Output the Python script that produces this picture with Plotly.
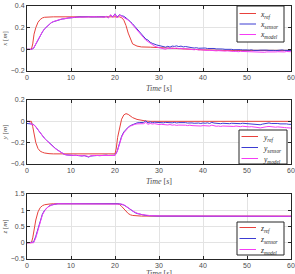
import numpy as np
import plotly.graph_objects as go

# ---------------- data ----------------
t_grid = np.arange(0, 60.01, 0.5)

# panel 1 : x
t_xref = [0, 1, 1.3, 1.6, 2, 2.5, 3, 3.5, 4, 5, 6, 21, 21.5, 22, 22.5, 23, 23.5, 24, 25, 26, 28, 30, 35, 40, 45, 60]
x_ref = [0, 0, 0.05, 0.14, 0.2, 0.25, 0.275, 0.29, 0.296, 0.3, 0.3, 0.3, 0.292, 0.27, 0.22, 0.15, 0.09, 0.05, 0.03, 0.022, 0.02, 0.015, 0.005, -0.005, -0.01, -0.01]
x_sensor = [
    0, 0, 0, 0.01, 0.05, 0.09, 0.13, 0.16, 0.19, 0.21,
    0.23, 0.245, 0.255, 0.262, 0.27, 0.276, 0.28, 0.282, 0.288, 0.29,
    0.291, 0.295, 0.293, 0.298, 0.3, 0.299, 0.302, 0.3, 0.301, 0.299,
    0.3, 0.302, 0.299, 0.301, 0.3, 0.298, 0.303, 0.292, 0.315, 0.3,
    0.328, 0.295, 0.32, 0.31, 0.305, 0.29, 0.275, 0.255, 0.235, 0.21,
    0.19, 0.16, 0.14, 0.12, 0.095, 0.085, 0.065, 0.055, 0.045, 0.04,
    0.035, 0.03, 0.025, 0.02, 0.028, 0.02, 0.03, 0.027, 0.032, 0.025,
    0.03, 0.022, 0.026, 0.02, 0.018, 0.015, 0.012, 0.015, 0.01, 0.012,
    0.01, 0.012, 0.008, 0.01, 0.006, 0.008, 0.004, 0.005, 0.002, 0.003,
    0.0, 0.002, -0.002, 0.0, -0.004, -0.002, -0.005, -0.003, -0.006, -0.004,
    -0.006, -0.008, -0.005, -0.01, -0.007, -0.01, -0.008, -0.006, -0.01, -0.008,
    -0.01, -0.007, -0.01, -0.012, -0.008, -0.01, -0.006, -0.01, -0.008, -0.01,
    -0.01]
x_model = [
    0, 0, 0, 0.012, 0.05, 0.09, 0.13, 0.162, 0.19, 0.212,
    0.232, 0.246, 0.256, 0.264, 0.27, 0.276, 0.28, 0.284, 0.287, 0.29,
    0.292, 0.294, 0.296, 0.297, 0.298, 0.3, 0.3, 0.301, 0.3, 0.3,
    0.3, 0.301, 0.3, 0.3, 0.301, 0.297, 0.305, 0.29, 0.32, 0.295,
    0.325, 0.29, 0.318, 0.305, 0.3, 0.285, 0.27, 0.25, 0.228, 0.205,
    0.18, 0.155, 0.13, 0.108, 0.085, 0.07, 0.052, 0.04, 0.03, 0.022,
    0.015, 0.01, 0.008, 0.0, 0.012, 0.006, 0.012, 0.008, 0.012, 0.006,
    0.01, 0.004, 0.006, 0.002, 0.0, -0.002, -0.004, 0.0, -0.006, -0.004,
    -0.008, -0.006, -0.01, -0.008, -0.012, -0.01, -0.014, -0.012, -0.015, -0.012,
    -0.016, -0.014, -0.018, -0.016, -0.02, -0.018, -0.022, -0.019, -0.02, -0.018,
    -0.022, -0.02, -0.024, -0.02, -0.025, -0.022, -0.026, -0.024, -0.027, -0.024,
    -0.025, -0.022, -0.026, -0.024, -0.022, -0.025, -0.022, -0.024, -0.02, -0.022,
    -0.022]

# panel 2 : y
t_yref = [0, 1, 1.3, 1.6, 2, 2.5, 3, 3.5, 4, 5, 6, 20, 20.3, 20.6, 21, 21.5, 22, 22.5, 23, 23.5, 24, 25, 26, 27, 28, 60]
y_ref = [0, 0, -0.05, -0.13, -0.2, -0.255, -0.28, -0.29, -0.297, -0.303, -0.305, -0.305, -0.25, -0.15, -0.06, 0.02, 0.06, 0.072, 0.065, 0.05, 0.035, 0.018, 0.008, 0.003, 0, 0]
y_sensor = [
    -0.02, -0.02, -0.025, -0.03, -0.05, -0.08, -0.11, -0.14, -0.16, -0.18,
    -0.2, -0.22, -0.24, -0.255, -0.27, -0.285, -0.3, -0.31, -0.315, -0.318,
    -0.316, -0.32, -0.318, -0.322, -0.32, -0.325, -0.32, -0.33, -0.335, -0.325,
    -0.322, -0.318, -0.32, -0.322, -0.318, -0.32, -0.317, -0.32, -0.318, -0.32,
    -0.318, -0.28, -0.2, -0.14, -0.1, -0.075, -0.055, -0.04, -0.03, -0.022,
    -0.015, -0.012, -0.008, -0.01, 0.005, -0.015, -0.005, -0.012, -0.008, -0.01,
    -0.012, -0.008, -0.014, -0.01, -0.012, -0.009, -0.014, -0.01, -0.015, -0.012,
    -0.01, -0.014, -0.012, -0.016, -0.012, -0.015, -0.018, -0.014, -0.016, -0.02,
    -0.015, -0.018, -0.014, -0.02, -0.01, -0.016, -0.02, -0.018, -0.022, -0.018,
    -0.02, -0.017, -0.022, -0.018, -0.02, -0.016, -0.02, -0.022, -0.018, -0.02,
    -0.018, -0.022, -0.02, -0.025, -0.03, -0.028, -0.032, -0.026, -0.022, -0.018,
    -0.015, -0.02, -0.018, -0.022, -0.02, -0.024, -0.022, -0.026, -0.024, -0.028,
    -0.028]
y_model = [
    0.0, 0.0, -0.03, -0.033, -0.05, -0.08, -0.11, -0.14, -0.162, -0.182,
    -0.202, -0.222, -0.242, -0.258, -0.272, -0.287, -0.3, -0.31, -0.315, -0.318,
    -0.318, -0.318, -0.32, -0.32, -0.32, -0.322, -0.32, -0.325, -0.33, -0.322,
    -0.32, -0.32, -0.32, -0.32, -0.32, -0.32, -0.32, -0.32, -0.32, -0.32,
    -0.32, -0.285, -0.21, -0.15, -0.108, -0.08, -0.06, -0.045, -0.035, -0.028,
    -0.024, -0.022, -0.02, -0.022, -0.01, -0.028, -0.02, -0.025, -0.022, -0.028,
    -0.03, -0.028, -0.032, -0.03, -0.034, -0.03, -0.036, -0.033, -0.038, -0.035,
    -0.034, -0.038, -0.036, -0.04, -0.036, -0.04, -0.042, -0.038, -0.04, -0.044,
    -0.04, -0.042, -0.038, -0.044, -0.036, -0.042, -0.046, -0.044, -0.048, -0.044,
    -0.046, -0.044, -0.048, -0.045, -0.048, -0.044, -0.048, -0.05, -0.046, -0.05,
    -0.048, -0.052, -0.05, -0.055, -0.06, -0.058, -0.062, -0.056, -0.052, -0.05,
    -0.048, -0.052, -0.05, -0.055, -0.052, -0.056, -0.055, -0.058, -0.06, -0.062,
    -0.063]

# panel 3 : z
t_zref = [0, 1, 1.3, 1.6, 2, 2.5, 3, 3.5, 4, 5, 6, 20.5, 21, 21.5, 22, 22.5, 23, 23.5, 24, 25, 26, 60]
z_ref = [0, 0, 0.15, 0.4, 0.7, 0.95, 1.08, 1.14, 1.17, 1.19, 1.2, 1.2, 1.18, 1.12, 1.04, 0.96, 0.9, 0.86, 0.84, 0.83, 0.82, 0.82]
t_zsm = [0, 1, 1.5, 2, 2.5, 3, 3.5, 4, 4.5, 5, 5.5, 6, 7, 21, 21.5, 22, 22.5, 23, 23.5, 24, 24.5, 25, 26, 27, 28, 30, 40, 50, 60]
z_sensor = [0, 0, 0.02, 0.2, 0.45, 0.7, 0.88, 1.0, 1.08, 1.13, 1.16, 1.18, 1.2, 1.2, 1.19, 1.16, 1.12, 1.07, 1.02, 0.97, 0.93, 0.9, 0.86, 0.84, 0.83, 0.82, 0.815, 0.81, 0.81]
z_model = [0, 0, 0.0, 0.15, 0.4, 0.66, 0.86, 0.98, 1.07, 1.12, 1.16, 1.18, 1.2, 1.2, 1.19, 1.17, 1.13, 1.08, 1.03, 0.98, 0.94, 0.91, 0.87, 0.85, 0.835, 0.825, 0.82, 0.815, 0.815]

x_ticks = [0, 10, 20, 30, 40, 50, 60]
panel_ranges = [[-0.2, 0.4], [-0.4, 0.2], [-0.5, 1.5]]
panel_ticks = [[-0.2, 0, 0.2, 0.4], [-0.4, -0.2, 0, 0.2], [-0.5, 0, 0.5, 1, 1.5]]
panel_vars = ["x", "y", "z"]
series_subs = ["ref", "sensor", "model"]
time_title = "<i>Time</i> [<i>s</i>]"

RED = "#e8413c"
BLUE = "#3c3cd2"
MAG = "#f53cf5"
COLORS = [RED, BLUE, MAG]
SERIF = "Liberation Serif"
SANS = "Liberation Sans"

W, H = 295, 274


def px(x):
    return x / W


def py(y):
    return 1 - y / H


fig = go.Figure()

panels = [
    (t_xref, x_ref, x_sensor, x_model, t_grid, t_grid),
    (t_yref, y_ref, y_sensor, y_model, t_grid, t_grid),
    (t_zref, z_ref, z_sensor, z_model, t_zsm, t_zsm),
]
for i, (tr, r, s, m, ts, tm) in enumerate(panels):
    ax = "" if i == 0 else str(i + 1)
    v = panel_vars[i]
    for tt, yy, col, sub in [(tr, r, RED, "ref"), (ts, s, BLUE, "sensor"), (tm, m, MAG, "model")]:
        fig.add_trace(go.Scatter(
            x=tt, y=yy, mode="lines", line=dict(color=col, width=1),
            name=f"{v}_{sub}", showlegend=False,
            xaxis="x" + ax, yaxis="y" + ax))

doms = [[py(71), py(6)], [py(164), py(100)], [py(259), py(194)]]
xdom = [px(27), px(291)]

common = dict(showline=True, linecolor="#262626", linewidth=1, mirror="ticks",
              ticks="inside", ticklen=3, tickcolor="#262626", automargin=False,
              showgrid=True, gridcolor="#e3e3e3", gridwidth=1, zeroline=False,
              tickfont=dict(family=SANS, size=7, color="#4d4d4d"))

layout = dict(width=W, height=H, margin=dict(l=0, r=0, t=0, b=0),
              paper_bgcolor="white", plot_bgcolor="white", showlegend=False)
for i in range(3):
    ax = "" if i == 0 else str(i + 1)
    xa = dict(common, domain=xdom, anchor="y" + ax, range=[0, 60], tickvals=x_ticks)
    if i < 2:
        xa["title"] = dict(text=time_title, standoff=4, font=dict(family=SERIF, size=8, color="#4d4d4d"))
    layout["xaxis" + ax] = xa
    layout["yaxis" + ax] = dict(common, domain=doms[i], anchor="x" + ax, range=panel_ranges[i],
                                tickvals=panel_ticks[i],
                                title=dict(text=f"<i>{panel_vars[i]}</i> [<i>m</i>]", standoff=2,
                                           font=dict(family=SERIF, size=7, color="#4d4d4d")))
fig.update_layout(**layout)

# bottom panel's time title sits partly below the canvas edge, as in the source
fig.add_annotation(xref="paper", yref="paper", x=px(159), y=py(266.5), xanchor="center", yanchor="top",
                   showarrow=False, text=time_title, font=dict(family=SERIF, size=8, color="#4d4d4d"))

# legend boxes (pixel geometry): box l, r, t, b ; entry rows ; line x0, x1 ; text x
legend_geo = [
    dict(box=(237, 284, 6, 42), rows=(13.5, 24, 34.5), line=(239.5, 256), tx=258),
    dict(box=(239, 287, 130, 164), rows=(136.5, 147.5, 158.5), line=(241.5, 258), tx=260.5),
    dict(box=(237, 284, 222, 255), rows=(227.5, 238.5, 249.5), line=(239.5, 256), tx=258),
]
for i, g in enumerate(legend_geo):
    l, r, t, b = g["box"]
    fig.add_shape(type="rect", xref="paper", yref="paper", x0=px(l), x1=px(r), y0=py(b), y1=py(t),
                  line=dict(color="#262626", width=1), fillcolor="white", layer="above")
    for k, sub in enumerate(series_subs):
        yy = g["rows"][k]
        fig.add_shape(type="line", xref="paper", yref="paper", x0=px(g["line"][0]), x1=px(g["line"][1]),
                      y0=py(yy), y1=py(yy), line=dict(color=COLORS[k], width=1), layer="above")
        fig.add_annotation(xref="paper", yref="paper", x=px(g["tx"]), y=py(yy + 1),
                           xanchor="left", yanchor="middle", showarrow=False,
                           text=f"<i>{panel_vars[i]}</i><sub><i>{sub}</i></sub>",
                           font=dict(family=SERIF, size=7.5, color="#262626"))

fig.write_html("out.html")
